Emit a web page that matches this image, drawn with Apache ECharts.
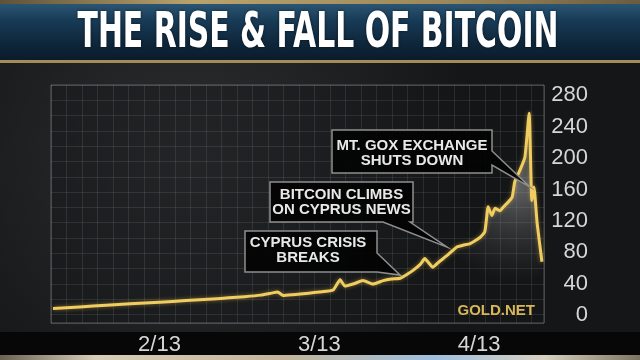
<!DOCTYPE html>
<html><head><meta charset="utf-8">
<script src="https://cdn.jsdelivr.net/npm/echarts@6/dist/echarts.min.js"></script>
<style>html,body{margin:0;padding:0;background:#1c1d1f;overflow:hidden}#c{width:640px;height:360px}</style>
</head><body><div id="c"></div>
<script>
// ---- data ----
const titleText = 'THE RISE & FALL OF BITCOIN';
const sourceText = 'GOLD.NET';
const xTickDays = [20, 50, 80];
const xTickLabels = ['2/13', '3/13', '4/13'];
const yTickValues = [0, 40, 80, 120, 160, 200, 240, 280];
const days = [0, 5, 10, 14.5, 20, 25, 30, 33, 36, 39, 40.7, 42.2, 43.2, 45, 48, 50, 52.6, 53.9, 54.8, 56.5, 58.2, 60.1, 62, 63.5, 65.2, 66.5, 67.6, 69, 69.8, 71.3, 72.5, 74, 75.9, 77, 78.3, 79.3, 80.2, 81.1, 81.7, 82.4, 83, 83.9, 84.6, 85.2, 86.2, 86.7, 87.7, 88.6, 89.4, 89.9, 90.3, 90.9, 91.8];
const prices = [8.5, 10.5, 12.5, 14.5, 16.5, 18.5, 20.5, 22, 23.5, 25.5, 27.6, 29.5, 25, 26, 28, 29.5, 32, 45, 37, 40, 44, 39.5, 44, 46, 47, 52, 57, 65, 72, 61, 68, 76, 87, 89, 91, 95, 99, 107, 138, 127, 136, 133, 138, 142, 150, 170, 185, 201, 257, 146, 163, 117, 68];
const annotationTexts = ['MT. GOX EXCHANGE\nSHUTS DOWN', 'BITCOIN CLIMBS\nON CYPRUS NEWS', 'CYPRUS CRISIS\nBREAKS'];
const annotationTargets = [[89.6, 163], [74, 86.5], [65.2, 51]];

// ---- layout (pixels) ----
const calloutLayout = [
  {text: [412, 153], pre: [[332,130],[492,130],[492,151]], post: [[492,165],[492,173],[332,173]]},
  {text: [341.5, 202], pre: [[270,182],[413,182],[413,222],[410,222]], post: [[383,222],[270,222]]},
  {text: [308, 250.5], pre: [[245,231],[377,231],[377,253]], post: [[377,272],[245,272]]}
];

const chart = echarts.init(document.getElementById('c'), null, {renderer: 'canvas'});
const labelFont = '"Liberation Sans", Arial, sans-serif';

const option = {
  animation: false,
  backgroundColor: {type: 'radial', x: 0.3, y: 0.45, r: 0.8, colorStops: [{offset: 0, color: '#2d2e30'}, {offset: 1, color: '#151617'}]},
  grid: [
    {left: 53, right: 97, top: 85, bottom: 37},
    {left: 51, right: 96, top: 85, bottom: 37, show: true, borderColor: 'rgba(200,200,200,0.35)', borderWidth: 1, backgroundColor: 'rgba(18,20,22,0.35)'}
  ],
  xAxis: [
    {gridIndex: 0, type: 'value', min: 0, max: 92, z: 80,
     axisLine: {show: false}, axisTick: {show: false}, splitLine: {show: false},
     axisLabel: {customValues: xTickDays, formatter: v => xTickLabels[xTickDays.indexOf(v)] || '', color: '#d6d6d6', fontSize: 22, fontFamily: labelFont, margin: 11}},
    {gridIndex: 1, type: 'value', min: 0, max: 31.8, interval: 1,
     axisLine: {show: false}, axisTick: {show: false}, axisLabel: {show: false},
     splitLine: {show: true, lineStyle: {color: 'rgba(255,255,255,0.09)', width: 1}}}
  ],
  yAxis: [
    {gridIndex: 0, type: 'value', position: 'right', min: -10, max: 293, z: 80,
     axisLine: {show: false}, axisTick: {show: false}, splitLine: {show: false},
     axisLabel: {customValues: yTickValues, color: '#d6d6d6', fontSize: 22, fontFamily: labelFont, align: 'right', margin: 45}},
    {gridIndex: 1, type: 'value', min: 0, max: 15.55, interval: 1, inverse: true,
     axisLine: {show: false}, axisTick: {show: false}, axisLabel: {show: false},
     splitLine: {show: true, lineStyle: {color: 'rgba(255,255,255,0.09)', width: 1}}}
  ],
  series: [{
    type: 'line', xAxisIndex: 0, yAxisIndex: 0,
    data: days.map((d, i) => [d, prices[i]]),
    showSymbol: false, smooth: 0.15, z: 3,
    lineStyle: {color: '#efcd60', width: 3, shadowColor: 'rgba(255,205,80,0.45)', shadowBlur: 4, join: 'round'},
    areaStyle: {origin: 'start', color: {type: 'radial', x: 0.95, y: 0.35, r: 0.45, colorStops: [
      {offset: 0, color: 'rgba(200,200,200,0.62)'}, {offset: 0.5, color: 'rgba(150,150,150,0.32)'}, {offset: 1, color: 'rgba(120,120,120,0)'}]}}
  }]
};
chart.setOption(option);

// title width fit
const titleFont = 'bold 50px "Liberation Sans Narrow", "DejaVu Sans Condensed", "Liberation Sans", sans-serif';
const ctx = document.createElement('canvas').getContext('2d');
ctx.font = titleFont;
const tw = ctx.measureText(titleText).width || 481;
const titleScale = 481 / tw;

const tips = annotationTargets.map(t => chart.convertToPixel({gridIndex: 0}, t));

const graphics = [
  {type: 'rect', z: 50, shape: {x: 0, y: 0, width: 640, height: 6}, style: {fill: {type: 'linear', x: 0, y: 0, x2: 1, y2: 0, colorStops: [{offset: 0, color: '#5e5238'}, {offset: 0.3, color: '#b9a26c'}, {offset: 0.7, color: '#9c885b'}, {offset: 1, color: '#6a5c3e'}]}}},
  {type: 'rect', z: 51, shape: {x: 0, y: 4, width: 640, height: 57}, style: {fill: {type: 'linear', x: 0, y: 0, x2: 0, y2: 1, colorStops: [{offset: 0, color: '#2b5573'}, {offset: 0.3, color: '#173a55'}, {offset: 0.7, color: '#0e263a'}, {offset: 1, color: '#0a1b2a'}]}}},
  {type: 'rect', z: 52, shape: {x: 0, y: 60, width: 640, height: 3}, style: {fill: '#a28d5a'}},
  {type: 'text', z: 53, x: 318, y: 34, scaleX: titleScale, style: {text: titleText, font: titleFont, fill: '#ffffff', align: 'center', verticalAlign: 'middle', textShadowColor: 'rgba(0,0,0,0.6)', textShadowBlur: 3}},
  {type: 'rect', z: 50, shape: {x: 0, y: 332, width: 640, height: 24}, style: {fill: '#070707'}},
  {type: 'rect', z: 50, shape: {x: 0, y: 355, width: 640, height: 5}, style: {fill: {type: 'linear', x: 0, y: 0, x2: 1, y2: 0, colorStops: [{offset: 0, color: '#6b6254'}, {offset: 0.15, color: '#d8cdb8'}, {offset: 0.45, color: '#c2b59c'}, {offset: 0.68, color: '#9fbfe0'}, {offset: 0.85, color: '#d8d0c0'}, {offset: 1, color: '#7d7363'}]}}},
  {type: 'text', z: 60, x: 535, y: 311, style: {text: sourceText, font: 'bold 15px "Liberation Sans", Arial, sans-serif', fill: '#d8b65a', align: 'right', verticalAlign: 'middle'}}
];
calloutLayout.forEach((c, i) => {
  graphics.push({type: 'polygon', z: 70, shape: {points: c.pre.concat([tips[i]], c.post)}, style: {fill: 'rgba(3,3,3,0.93)', stroke: '#8e8e8e', lineWidth: 1.5, lineJoin: 'miter'}});
  graphics.push({type: 'text', z: 71, x: c.text[0], y: c.text[1], style: {text: annotationTexts[i], font: 'bold 15px "Liberation Sans", Arial, sans-serif', fill: '#e8e8e8', align: 'center', verticalAlign: 'middle', lineHeight: 15}});
});
chart.setOption({graphic: graphics});
</script>
</body></html>
